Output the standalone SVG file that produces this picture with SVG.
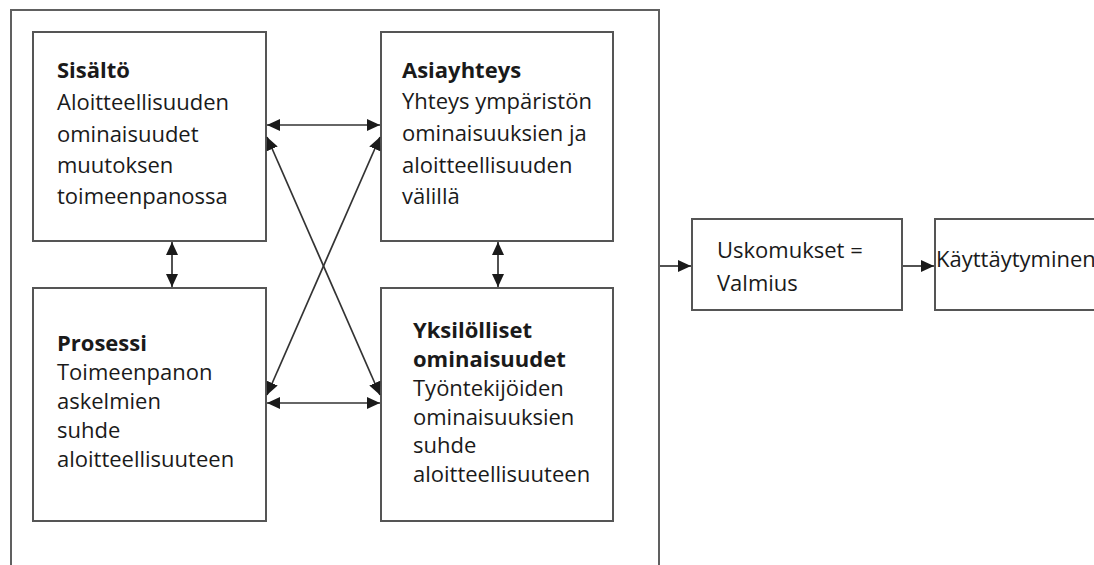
<svg xmlns="http://www.w3.org/2000/svg" width="1094" height="565" viewBox="0 0 1094 565">
<style>
.box{fill:#fff;stroke:#555;stroke-width:2}
.outer{fill:none;stroke:#606060;stroke-width:2}
.t{font-family:"Open Sans","DejaVu Sans",sans-serif;font-size:22px;fill:#1a1a1a}
.b{font-weight:bold}
.c{stroke:#333;stroke-width:1.7;fill:none}
</style>
<defs>
<marker id="ah" markerUnits="userSpaceOnUse" markerWidth="13" markerHeight="13" refX="13" refY="6.5" orient="auto-start-reverse" viewBox="0 0 13 13">
<path d="M0,0.5 L13,6.5 L0,12.5 z" fill="#1a1a1a"/>
</marker>
</defs>
<rect class="outer" x="11" y="10" width="648" height="570"/>
<g id="n-sisalto">
<rect class="box" x="33" y="32" width="233" height="209"/>
<text class="t"><tspan class="b" x="57" y="78">Sisältö</tspan><tspan x="57" y="110">Aloitteellisuuden</tspan><tspan x="57" y="142">ominaisuudet</tspan><tspan x="57" y="173">muutoksen</tspan><tspan x="57" y="204">toimeenpanossa</tspan></text>
</g>
<g id="n-asiayhteys">
<rect class="box" x="381" y="32" width="232" height="209"/>
<text class="t"><tspan class="b" x="402" y="78">Asiayhteys</tspan><tspan x="402" y="109">Yhteys ympäristön</tspan><tspan x="402" y="141">ominaisuuksien ja</tspan><tspan x="402" y="173">aloitteellisuuden</tspan><tspan x="402" y="204">välillä</tspan></text>
</g>
<g id="n-prosessi">
<rect class="box" x="33" y="288" width="233" height="233"/>
<text class="t"><tspan class="b" x="57" y="351">Prosessi</tspan><tspan x="57" y="380">Toimeenpanon</tspan><tspan x="57" y="409">askelmien</tspan><tspan x="57" y="438">suhde</tspan><tspan x="57" y="467">aloitteellisuuteen</tspan></text>
</g>
<g id="n-yksilolliset">
<rect class="box" x="381" y="288" width="232" height="233"/>
<text class="t"><tspan class="b" x="413" y="338">Yksilölliset</tspan><tspan class="b" x="413" y="367">ominaisuudet</tspan><tspan x="413" y="396">Työntekijöiden</tspan><tspan x="413" y="425">ominaisuuksien</tspan><tspan x="413" y="453">suhde</tspan><tspan x="413" y="482">aloitteellisuuteen</tspan></text>
</g>
<g id="n-uskomukset">
<rect class="box" x="692" y="219" width="210" height="91"/>
<text class="t"><tspan x="717" y="258">Uskomukset =</tspan><tspan x="717" y="291">Valmius</tspan></text>
</g>
<g id="n-kayttaytyminen">
<rect class="box" x="935" y="219" width="170" height="91"/>
<text class="t" x="936" y="267">Käyttäytyminen</text>
</g>
<g id="connectors">
<line class="c" x1="267" y1="125" x2="380" y2="125" marker-start="url(#ah)" marker-end="url(#ah)"/>
<line class="c" x1="267" y1="403" x2="380" y2="403" marker-start="url(#ah)" marker-end="url(#ah)"/>
<line class="c" x1="172" y1="242" x2="172" y2="287" marker-start="url(#ah)" marker-end="url(#ah)"/>
<line class="c" x1="498" y1="242" x2="498" y2="287" marker-start="url(#ah)" marker-end="url(#ah)"/>
<line class="c" x1="267" y1="137" x2="380" y2="395" marker-start="url(#ah)" marker-end="url(#ah)"/>
<line class="c" x1="380" y1="137" x2="267" y2="395" marker-start="url(#ah)" marker-end="url(#ah)"/>
<line class="c" x1="660" y1="266" x2="691" y2="266" marker-end="url(#ah)"/>
<line class="c" x1="903" y1="266" x2="934" y2="266" marker-end="url(#ah)"/>
</g>
</svg>
